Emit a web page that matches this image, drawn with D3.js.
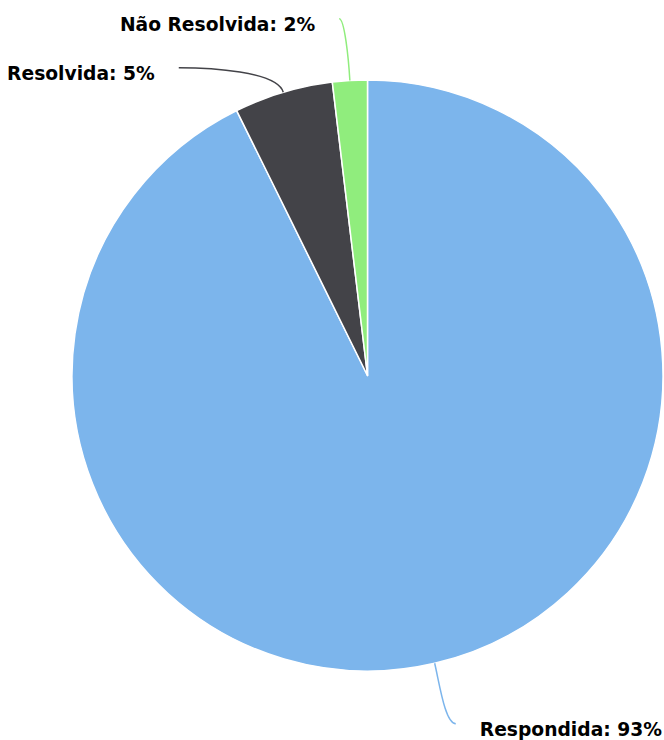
<!DOCTYPE html>
<html>
<head>
<meta charset="utf-8">
<script src="https://cdn.jsdelivr.net/npm/d3@7"></script>
<style>
  body { margin: 0; background: #fff; }
  .label { font-family: "DejaVu Sans", sans-serif; font-weight: bold; font-size: 18.7px; fill: #000; }
</style>
</head>
<body>
<svg id="pieChart"></svg>
<script>
// Data
const categories = ["Respondida", "Resolvida", "Não Resolvida"];
const values = [92.7, 5.4, 1.9];
const colors = ["#7cb5ec", "#434348", "#90ed7d"];

const width = 664;
const height = 740;
const cx = 367.5, cy = 375.5, radius = 295.5;
const labelRadius = radius + 62;

const svg = d3.select("#pieChart")
    .attr("width", width)
    .attr("height", height);

const g = svg.append("g")
    .attr("transform", `translate(${cx}, ${cy})`);

const data = categories.map((c, i) => ({ name: c, value: values[i], color: colors[i] }));
const total = d3.sum(values);

const pie = d3.pie().sort(null).value(d => d.value);
const arc = d3.arc().innerRadius(0).outerRadius(radius);
const arcs = pie(data);

// Slices
g.selectAll(".slice")
    .data(arcs)
    .enter()
    .append("path")
    .attr("class", "slice")
    .attr("d", arc)
    .attr("fill", d => d.data.color)
    .attr("stroke", "#fff")
    .attr("stroke-width", 1.5)
    .attr("stroke-linejoin", "round");

// Label layout: natural positions on an outer circle, then push apart vertically
const labels = arcs.map(d => {
    const a = (d.startAngle + d.endAngle) / 2;
    return {
        d: d,
        angle: a,
        side: Math.sin(a) >= 0 ? 1 : -1,
        edge: [radius * Math.sin(a), -radius * Math.cos(a)],
        y: -labelRadius * Math.cos(a)
    };
});

[1, -1].forEach(side => {
    const group = labels.filter(l => l.side === side).sort((a, b) => a.y - b.y);
    for (let i = 1; i < group.length; i++) {
        if (group[i].y - group[i - 1].y < 49) group[i].y = group[i - 1].y + 49;
    }
});
labels.forEach(l => {
    const dy = Math.min(Math.abs(l.y), labelRadius);
    l.x = l.side * (Math.sqrt(labelRadius * labelRadius - dy * dy) + 7);
});

// Connectors
g.selectAll(".connector")
    .data(labels)
    .enter()
    .append("path")
    .attr("class", "connector")
    .attr("fill", "none")
    .attr("stroke", l => l.d.data.color)
    .attr("stroke-width", 1.5)
    .attr("d", l => {
        const rx = Math.sin(l.angle), ry = -Math.cos(l.angle);
        const c1 = [l.edge[0] + rx * 22, l.edge[1] + ry * 22];
        const off = Math.min(30, Math.abs(l.edge[0] - l.x) * 0.5);
        const c2 = [l.x - l.side * off, l.y];
        return `M${l.edge[0]},${l.edge[1]} C${c1[0]},${c1[1]} ${c2[0]},${c2[1]} ${l.x},${l.y}`;
    });

// Labels
g.selectAll(".label")
    .data(labels)
    .enter()
    .append("text")
    .attr("class", "label")
    .attr("x", l => l.x + l.side * 24)
    .attr("y", l => l.y + 12)
    .attr("text-anchor", l => l.side > 0 ? "start" : "end")
    .text(l => `${l.d.data.name}: ${Math.round(l.d.data.value / total * 100)}%`);
</script>
</body>
</html>
